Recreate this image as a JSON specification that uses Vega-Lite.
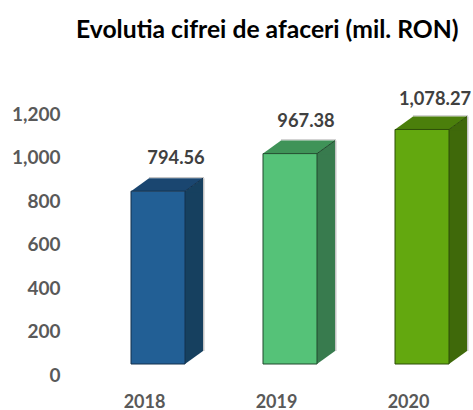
{
"$schema":"https://vega.github.io/schema/vega-lite/v6.json",
"width":381,"height":261,
"autosize":"none",
"padding":{"left":92,"top":103,"right":0,"bottom":46},
"background":"white",
"view":{"stroke":null},
"title":{"text":"Evolutia cifrei de afaceri (mil. RON)","font":"Lato","fontSize":24.7,"fontWeight":"bold","color":"#000000","anchor":"start","frame":"group","dx":-16,"offset":48},
"data":{"values":[{"year":"2018","value":794.56,"label":"794.56"},{"year":"2019","value":967.38,"label":"967.38"},{"year":"2020","value":1078.27,"label":"1,078.27"}]},
"encoding":{
"x":{"field":"year","type":"ordinal","title":null,"scale":{"type":"point","range":[66,330],"padding":0},
"axis":{"domain":false,"ticks":false,"labelAngle":0,"labelFont":"Lato","labelFontSize":18,"labelFontWeight":"bold","labelColor":"#595959","labelOffset":-14,"labelPadding":29,"grid":false}},
"y":{"field":"value","type":"quantitative","title":null,"scale":{"domain":[0,1200],"nice":false},
"axis":{"domain":false,"ticks":false,"grid":false,"values":[0,200,400,600,800,1000,1200],"format":",d","labelFont":"Lato","labelFontSize":19,"labelFontWeight":"bold","labelColor":"#595959","labelOffset":11,"labelPadding":32}}
},
"layer":[
{"mark":{"type":"bar","width":1.5,"xOffset":45.75,"yOffset":-13,"y2Offset":-13,"color":"#c4c4c4"},
"encoding":{"y2":{"datum":0}}},
{"mark":{"type":"point","filled":false,"size":4,"opacity":1,"stroke":"#c4c4c4","strokeWidth":1.2,"shape":"M-9 -13.7L46 -13.7"}},
{"mark":{"type":"bar","width":18,"xOffset":36,"yOffset":0,"y2Offset":-13,"stroke":null},
"encoding":{"y2":{"datum":0},"fill":{"field":"year","legend":null,"scale":{"domain":["2018","2019","2020"],"range":["#16405F","#387B4E","#3F690A"]}}}},
{"mark":{"type":"point","filled":true,"size":4,"opacity":1,"shape":"M27 1L27 0L45 -13L45 1Z"},
"encoding":{"fill":{"field":"year","legend":null,"scale":{"domain":["2018","2019","2020"],"range":["#16405F","#387B4E","#3F690A"]}}}},
{"mark":{"type":"point","filled":true,"size":4,"opacity":1,"shape":"M-27 0L-9 -13L45 -13L27 0Z"},
"encoding":{"fill":{"field":"year","legend":null,"scale":{"domain":["2018","2019","2020"],"range":["#1A4670","#3F9358","#4B7F0B"]}}}},
{"mark":{"type":"point","filled":true,"size":4,"opacity":1,"shape":"M27 0L45 -13L45 -14L27 -14Z"},
"encoding":{"y":{"datum":0},"fill":{"field":"year","legend":null,"scale":{"domain":["2018","2019","2020"],"range":["#16405F","#387B4E","#3F690A"]}}}},
{"mark":{"type":"point","filled":false,"size":4,"opacity":1,"strokeWidth":1,"shape":"M27 0L45 -13"},
"encoding":{"stroke":{"field":"year","legend":null,"scale":{"domain":["2018","2019","2020"],"range":["#12304C","#21492D","#2D4F07"]}}}},
{"mark":{"type":"bar","width":54,"strokeWidth":1},
"encoding":{"y2":{"datum":0},"stroke":{"field":"year","legend":null,"scale":{"domain":["2018","2019","2020"],"range":["#12304C","#21492D","#2D4F07"]}},"fill":{"field":"year","legend":null,"scale":{"domain":["2018","2019","2020"],"range":["#225F95","#55C278","#63A80F"]}}}},
{"transform":[{"filter":"datum.year=='2018'"}],"mark":{"type":"text","font":"Lato","fontSize":18.3,"fontWeight":"bold","color":"#404040","dx":18,"dy":-32},"encoding":{"text":{"field":"label"}}},
{"transform":[{"filter":"datum.year=='2019'"}],"mark":{"type":"text","font":"Lato","fontSize":18.3,"fontWeight":"bold","color":"#404040","dx":16,"dy":-32},"encoding":{"text":{"field":"label"}}},
{"transform":[{"filter":"datum.year=='2020'"}],"mark":{"type":"text","font":"Lato","fontSize":18.3,"fontWeight":"bold","color":"#404040","dx":13,"dy":-29},"encoding":{"text":{"field":"label"}}}
],
"resolve":{"scale":{"fill":"independent","stroke":"independent"}},
"config":{"style":{"cell":{"stroke":null}}}
}
